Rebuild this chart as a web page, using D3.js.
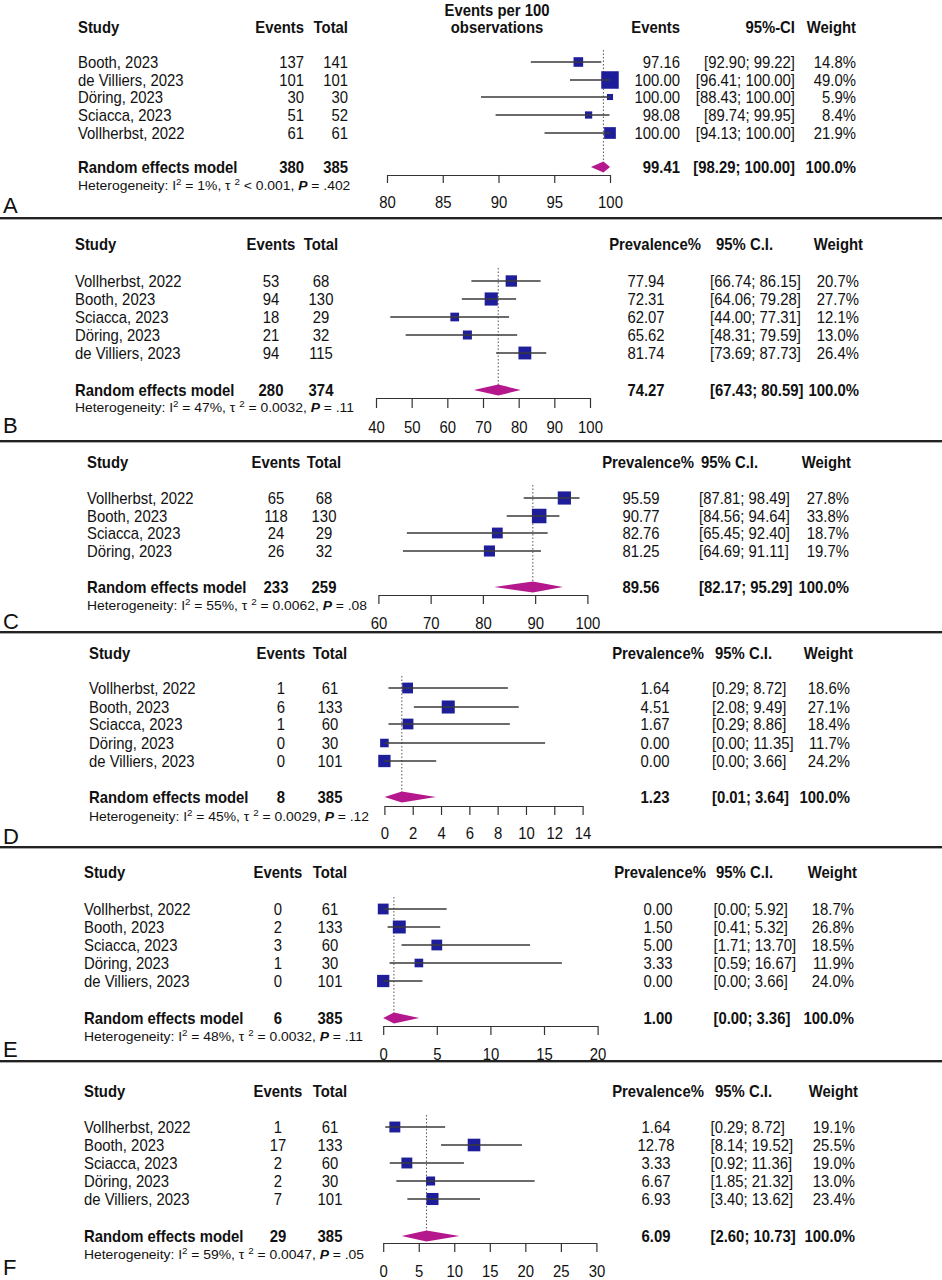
<!DOCTYPE html>
<html>
<head>
<meta charset="utf-8">
<script src="https://cdn.jsdelivr.net/npm/d3@7"></script>
<style>
  body { margin: 0; background: #fff; }
  text { font-family: "Liberation Sans", Arial, sans-serif; fill: #111; }
</style>
</head>
<body>
<svg id="chart" width="942" height="1280"></svg>
<script>
// panel A - events per 100 observations
const studiesA = ["Booth, 2023", "de Villiers, 2023", "Döring, 2023", "Sciacca, 2023", "Vollherbst, 2022"];
const eventsA = [137, 101, 30, 51, 61];
const totalsA = [141, 101, 30, 52, 61];
const estA = [97.16, 100.00, 100.00, 98.08, 100.00];
const lowA = [92.90, 96.41, 88.43, 89.74, 94.13];
const highA = [99.22, 100.00, 100.00, 99.95, 100.00];
const weightA = [14.8, 49.0, 5.9, 8.4, 21.9];
const pooledA = [380, 385, 99.41, 98.29, 100.00]; // events, total, est, low, high
const hetA = ["1%", "< 0.001", ".402"];
const ticksA = [80, 85, 90, 95, 100];

// panel B
const studiesB = ["Vollherbst, 2022", "Booth, 2023", "Sciacca, 2023", "Döring, 2023", "de Villiers, 2023"];
const eventsB = [53, 94, 18, 21, 94];
const totalsB = [68, 130, 29, 32, 115];
const estB = [77.94, 72.31, 62.07, 65.62, 81.74];
const lowB = [66.74, 64.06, 44.00, 48.31, 73.69];
const highB = [86.15, 79.28, 77.31, 79.59, 87.73];
const weightB = [20.7, 27.7, 12.1, 13.0, 26.4];
const pooledB = [280, 374, 74.27, 67.43, 80.59];
const hetB = ["47%", "= 0.0032", ".11"];
const ticksB = [40, 50, 60, 70, 80, 90, 100];

// panel C
const studiesC = ["Vollherbst, 2022", "Booth, 2023", "Sciacca, 2023", "Döring, 2023"];
const eventsC = [65, 118, 24, 26];
const totalsC = [68, 130, 29, 32];
const estC = [95.59, 90.77, 82.76, 81.25];
const lowC = [87.81, 84.56, 65.45, 64.69];
const highC = [98.49, 94.64, 92.40, 91.11];
const weightC = [27.8, 33.8, 18.7, 19.7];
const pooledC = [233, 259, 89.56, 82.17, 95.29];
const hetC = ["55%", "= 0.0062", ".08"];
const ticksC = [60, 70, 80, 90, 100];

// panel D
const studiesD = ["Vollherbst, 2022", "Booth, 2023", "Sciacca, 2023", "Döring, 2023", "de Villiers, 2023"];
const eventsD = [1, 6, 1, 0, 0];
const totalsD = [61, 133, 60, 30, 101];
const estD = [1.64, 4.51, 1.67, 0.00, 0.00];
const lowD = [0.29, 2.08, 0.29, 0.00, 0.00];
const highD = [8.72, 9.49, 8.86, 11.35, 3.66];
const weightD = [18.6, 27.1, 18.4, 11.7, 24.2];
const pooledD = [8, 385, 1.23, 0.01, 3.64];
const hetD = ["45%", "= 0.0029", ".12"];
const ticksD = [0, 2, 4, 6, 8, 10, 12, 14];

// panel E
const studiesE = ["Vollherbst, 2022", "Booth, 2023", "Sciacca, 2023", "Döring, 2023", "de Villiers, 2023"];
const eventsE = [0, 2, 3, 1, 0];
const totalsE = [61, 133, 60, 30, 101];
const estE = [0.00, 1.50, 5.00, 3.33, 0.00];
const lowE = [0.00, 0.41, 1.71, 0.59, 0.00];
const highE = [5.92, 5.32, 13.70, 16.67, 3.66];
const weightE = [18.7, 26.8, 18.5, 11.9, 24.0];
const pooledE = [6, 385, 1.00, 0.00, 3.36];
const hetE = ["48%", "= 0.0032", ".11"];
const ticksE = [0, 5, 10, 15, 20];

// panel F
const studiesF = ["Vollherbst, 2022", "Booth, 2023", "Sciacca, 2023", "Döring, 2023", "de Villiers, 2023"];
const eventsF = [1, 17, 2, 2, 7];
const totalsF = [61, 133, 60, 30, 101];
const estF = [1.64, 12.78, 3.33, 6.67, 6.93];
const lowF = [0.29, 8.14, 0.92, 1.85, 3.40];
const highF = [8.72, 19.52, 11.36, 21.32, 13.62];
const weightF = [19.1, 25.5, 19.0, 13.0, 23.4];
const pooledF = [29, 385, 6.09, 2.60, 10.73];
const hetF = ["59%", "= 0.0047", ".05"];
const ticksF = [0, 5, 10, 15, 20, 25, 30];

// layout of each panel (pixel positions)
const panels = [
  { label: "A", data: [studiesA, eventsA, totalsA, estA, lowA, highA, weightA, pooledA, hetA, ticksA],
    header: 27, rows: [62, 80, 97, 115, 133], pooled: 167, het: 185, axis: 175, tick: 8, tickLab: 202,
    range: [387, 610], labelY: 213, dotTop: 50,
    cols: { study: 78, events: 304, total: 348, est: 680, ci: 795, weight: 856 } },
  { label: "B", data: [studiesB, eventsB, totalsB, estB, lowB, highB, weightB, pooledB, hetB, ticksB],
    header: 244, rows: [281, 299, 317, 335, 353], pooled: 390, het: 407, axis: 398, tick: 10, tickLab: 427,
    range: [376, 590], labelY: 433, dotTop: 268,
    cols: { study: 75, events: 271, total: 321, est: 646, estH: 655, ci: 710, ciH: 716, weight: 859, weightH: 863 } },
  { label: "C", data: [studiesC, eventsC, totalsC, estC, lowC, highC, weightC, pooledC, hetC, ticksC],
    header: 462, rows: [498, 516, 533, 551], pooled: 587, het: 605, axis: 595, tick: 9, tickLab: 623,
    range: [378.4, 587.4], labelY: 629, dotTop: 485,
    cols: { study: 87, events: 276, total: 324, est: 641, estH: 648, ci: 699, ciH: 701, weight: 849, weightH: 851 } },
  { label: "D", data: [studiesD, eventsD, totalsD, estD, lowD, highD, weightD, pooledD, hetD, ticksD],
    header: 653, rows: [688, 707, 724, 743, 761], pooled: 797, het: 816, axis: 806, tick: 9, tickLab: 833,
    range: [384.4, 582.6], labelY: 844, dotTop: 676,
    cols: { study: 89, events: 281, total: 330, est: 655, estH: 658, ci: 712, ciH: 715, weight: 850, weightH: 853 } },
  { label: "E", data: [studiesE, eventsE, totalsE, estE, lowE, highE, weightE, pooledE, hetE, ticksE],
    header: 872, rows: [909, 927, 945, 963, 981], pooled: 1018, het: 1036, axis: 1026, tick: 9, tickLab: 1054,
    range: [383.2, 597.6], labelY: 1057, dotTop: 897,
    cols: { study: 84, events: 278, total: 330, est: 658, estH: 660, ci: 713.5, ciH: 716, weight: 854, weightH: 857 } },
  { label: "F", data: [studiesF, eventsF, totalsF, estF, lowF, highF, weightF, pooledF, hetF, ticksF],
    header: 1091, rows: [1127, 1145, 1163, 1181, 1199], pooled: 1236, het: 1254, axis: 1243, tick: 9, tickLab: 1271,
    range: [383.2, 596.4], labelY: 1275, dotTop: 1115,
    cols: { study: 84, events: 278, total: 330, est: 656, estH: 658, ci: 710.5, ciH: 715, weight: 855, weightH: 858 } }
];
const separators = [218, 441, 632, 847, 1061];

// the reference type is a tall, slightly narrow sans
const FONT = 16, SX = 0.93;

const svg = d3.select("#chart");
svg.append("rect").attr("width", 942).attr("height", 1280).attr("fill", "#fff");

const f2 = d3.format(".2f");
const f1 = d3.format(".1f");
const ciText = (lo, hi) => "[" + f2(lo) + "; " + f2(hi) + "]";

function txt(g, x, y, s, anchor, opts) {
  opts = opts || {};
  return g.append("text")
    .attr("transform", "translate(" + x + "," + y + ") scale(" + (opts.sx || SX) + ",1)")
    .attr("dy", "0.36em")
    .attr("text-anchor", anchor)
    .attr("font-size", opts.size || FONT)
    .attr("font-weight", opts.bold ? "bold" : null)
    .text(s);
}

function drawPanel(p) {
  const [studies, events, totals, est, low, high, weight, pooled, het, ticks] = p.data;
  const c = p.cols;
  const g = svg.append("g");
  const styleA = p.label === "A";

  const x = d3.scaleLinear().domain(d3.extent(ticks)).range(p.range);

  // header
  const hb = { bold: true };
  txt(g, c.study, p.header, "Study", "start", hb);
  if (styleA) {
    txt(g, c.events, p.header, "Events", "end", hb);
    txt(g, c.total, p.header, "Total", "end", hb);
    txt(g, 497, 10, "Events per 100", "middle", hb);
    txt(g, 497, p.header, "observations", "middle", hb);
    txt(g, c.est, p.header, "Events", "end", hb);
    txt(g, c.ci, p.header, "95%-CI", "end", hb);
    txt(g, c.weight, p.header, "Weight", "end", hb);
  } else {
    txt(g, c.events, p.header, "Events", "middle", hb);
    txt(g, c.total, p.header, "Total", "middle", hb);
    txt(g, c.estH, p.header, "Prevalence%", "middle", hb);
    txt(g, c.ciH, p.header, "95% C.I.", "start", hb);
    txt(g, c.weightH, p.header, "Weight", "end", hb);
  }

  const numAnchor = styleA ? "end" : "middle";
  const ciAnchor = styleA ? "end" : "start";

  // study rows
  studies.forEach((s, i) => {
    const y = p.rows[i];
    txt(g, c.study, y, s, "start");
    txt(g, c.events, y, events[i], numAnchor);
    txt(g, c.total, y, totals[i], numAnchor);
    txt(g, c.est, y, f2(est[i]), numAnchor);
    txt(g, c.ci, y, ciText(low[i], high[i]), ciAnchor);
    txt(g, c.weight, y, f1(weight[i]) + "%", "end");
  });

  // pooled row
  const pb = { bold: true };
  txt(g, c.study, p.pooled, "Random effects model", "start", pb);
  txt(g, c.events, p.pooled, pooled[0], numAnchor, pb);
  txt(g, c.total, p.pooled, pooled[1], numAnchor, pb);
  txt(g, c.est, p.pooled, f2(pooled[2]), numAnchor, pb);
  txt(g, c.ci, p.pooled, ciText(pooled[3], pooled[4]), ciAnchor, pb);
  txt(g, c.weight, p.pooled, "100.0%", "end", pb);

  // heterogeneity line
  const h = g.append("text")
    .attr("transform", "translate(" + c.study + "," + p.het + ") scale(1.03,1)")
    .attr("dy", "0.36em")
    .attr("font-size", 13.5);
  h.append("tspan").text("Heterogeneity: I");
  h.append("tspan").attr("dy", -5).attr("font-size", 9.5).text("2");
  h.append("tspan").attr("dy", 5).text(" = " + het[0] + ", \u03c4 ");
  h.append("tspan").attr("dy", -5).attr("font-size", 9.5).text("2");
  h.append("tspan").attr("dy", 5).text(" " + het[1] + ", ");
  h.append("tspan").attr("font-style", "italic").attr("font-weight", "bold").text("P");
  h.append("tspan").text(" = " + het[2]);

  // vertical dotted line at pooled estimate
  g.append("line")
    .attr("x1", x(pooled[2])).attr("x2", x(pooled[2]))
    .attr("y1", p.dotTop).attr("y2", p.pooled)
    .attr("stroke", "#555").attr("stroke-width", 1)
    .attr("stroke-dasharray", "1.5,2");

  // squares and CI lines
  studies.forEach((s, i) => {
    const y = p.rows[i];
    const sz = 2.5 * Math.sqrt(weight[i]);
    g.append("rect")
      .attr("x", x(est[i]) - sz / 2).attr("y", y - sz / 2)
      .attr("width", sz).attr("height", sz)
      .attr("fill", "#1e1e9a");
    g.append("line")
      .attr("x1", x(low[i])).attr("x2", x(high[i]))
      .attr("y1", y).attr("y2", y)
      .attr("stroke", "#3a3a3a").attr("stroke-width", 1.3);
  });

  // pooled diamond
  const yd = p.pooled;
  g.append("path")
    .attr("d", "M" + x(pooled[3]) + "," + yd +
      "L" + x(pooled[2]) + "," + (yd - 5.5) +
      "L" + x(pooled[4]) + "," + yd +
      "L" + x(pooled[2]) + "," + (yd + 5.5) + "Z")
    .attr("fill", "#b5178d");

  // axis
  const ax = g.append("g")
    .attr("transform", "translate(0," + p.axis + ")")
    .call(d3.axisBottom(x).tickValues(ticks).tickSize(p.tick).tickSizeOuter(0)
      .tickFormat(d3.format("d")));
  ax.select(".domain").attr("stroke", "#333").attr("stroke-width", 1.2);
  ax.selectAll(".tick line").attr("stroke", "#333").attr("stroke-width", 1.2);
  ax.selectAll(".tick text")
    .attr("y", p.tickLab - p.axis).attr("dy", "0.36em")
    .attr("transform", "scale(" + SX + ",1)")
    .attr("font-size", FONT)
    .attr("font-family", "\"Liberation Sans\", Arial, sans-serif")
    .attr("fill", "#111");

  // panel letter
  g.append("text").attr("x", 3).attr("y", p.labelY)
    .attr("font-size", 22).text(p.label);
}

panels.forEach(drawPanel);

separators.forEach(y => {
  svg.append("line").attr("x1", 0).attr("x2", 942).attr("y1", y).attr("y2", y)
    .attr("stroke", "#222").attr("stroke-width", 2);
  svg.append("line").attr("x1", 0).attr("x2", 942).attr("y1", y + 1.5).attr("y2", y + 1.5)
    .attr("stroke", "#aaa").attr("stroke-width", 1);
});
</script>
</body>
</html>
